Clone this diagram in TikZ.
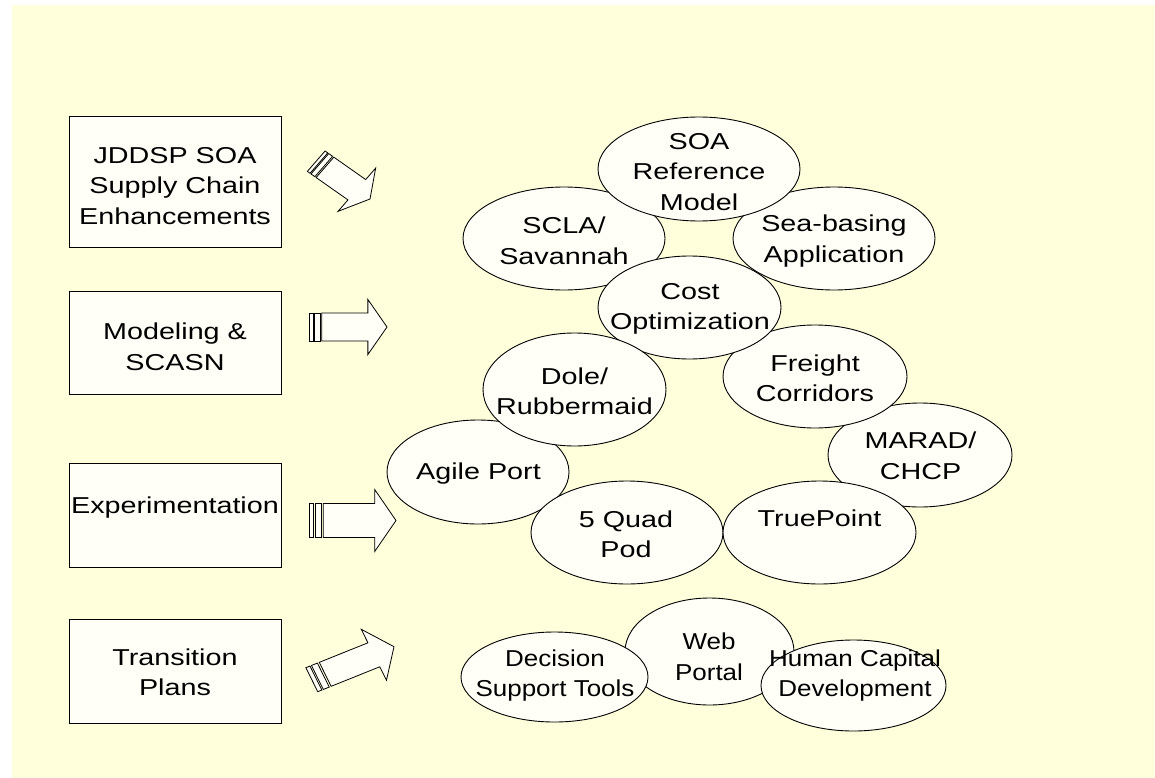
\documentclass[tikz,border=0pt]{standalone}
\usepackage{fontspec}
\setmainfont{Liberation Sans}
\newfontfamily\labA[FakeStretch=1.25]{Liberation Sans}
\newfontfamily\labB[FakeStretch=1.13]{Liberation Sans}
\usetikzlibrary{shapes.geometric}
\definecolor{bgyellow}{RGB}{255,255,220}
\definecolor{paper}{RGB}{255,255,248}
\tikzset{
  box/.style={draw=black, line width=1pt, fill=paper, rectangle, inner sep=0pt},
  oval/.style={draw=black, line width=0.9pt, fill=paper, ellipse, inner sep=0pt},
  lbl/.style={font={\labA\fontsize{23}{30.5}\selectfont}, align=center, inner sep=0pt},
  lblb/.style={font={\labB\fontsize{23}{30.5}\selectfont}, align=center, inner sep=0pt},
  arr/.style={draw=black, line width=0.8pt, fill=paper, line join=miter},
}
\newcommand\stripedarrow[1]{%
  \filldraw[arr] (0,-#1) -- (0.05,-#1) -- (0.05,#1) -- (0,#1) -- cycle;
  \filldraw[arr] (0.068,-#1) -- (0.14,-#1) -- (0.14,#1) -- (0.068,#1) -- cycle;
  \filldraw[arr] (0.163,-#1) -- (0.755,-#1) -- (0.755,-1) -- (1,0) -- (0.755,1) -- (0.755,#1) -- (0.163,#1) -- cycle;}
\begin{document}
\begin{tikzpicture}[x=1pt,y=-1pt]
\useasboundingbox (0,0) rectangle (1155,778);
\fill[bgyellow] (12,5) rectangle (1155,778);

% left boxes
\node[box, minimum width=212pt, minimum height=130pt] (b1) at (175,182) {};
\node[box, minimum width=212pt, minimum height=103pt] (b2) at (175,342.5) {};
\node[box, minimum width=212pt, minimum height=104pt] (b3) at (175,515) {};
\node[box, minimum width=212pt, minimum height=104pt] (b4) at (175,671) {};
\node[lbl] (tb1) at (175,186) {JDDSP SOA\\Supply Chain\\Enhancements};
\node[lbl] (tb2) at (175,347) {Modeling \&\\SCASN};
\node[lbl] (tb3) at (175,508) {Experimentation};
\node[lbl] (tb4) at (175,672.5) {Transition\\Plans};

% striped arrows
\begin{scope}[shift={(316.2pt,-161.2pt)}, x={(53.8pt,-37.8pt)}, y={(18.85pt,21.65pt)}]
  \stripedarrow{0.47}
\end{scope}
\begin{scope}[shift={(309pt,-327pt)}, x={(78pt,0pt)}, y={(0pt,27.5pt)}]
  \stripedarrow{0.51}
\end{scope}
\begin{scope}[shift={(309pt,-520.5pt)}, x={(87pt,0pt)}, y={(0pt,31pt)}]
  \stripedarrow{0.55}
\end{scope}
\begin{scope}[shift={(311.8pt,-679.7pt)}, x={(82.2pt,33pt)}, y={(-12.6pt,25.5pt)}]
  \stripedarrow{0.47}
\end{scope}

% ellipses (drawing order = stacking order)
\node[oval, minimum width=202pt, minimum height=103pt] (scla) at (564,238.5) {};
\node[oval, minimum width=202pt, minimum height=103pt] (sea) at (834,238.5) {};
\node[oval, minimum width=202pt, minimum height=104pt] (soa) at (699,169) {};
\node[oval, minimum width=184pt, minimum height=104pt] (marad) at (920,455) {};
\node[oval, minimum width=184pt, minimum height=103pt] (freight) at (815,376.5) {};
\node[oval, minimum width=183pt, minimum height=103pt] (cost) at (689.5,307.5) {};
\node[oval, minimum width=182pt, minimum height=104pt] (agile) at (478,472) {};
\node[oval, minimum width=183pt, minimum height=113pt] (dole) at (574.5,389.5) {};
\node[oval, minimum width=192pt, minimum height=103pt] (quad) at (627,532.5) {};
\node[oval, minimum width=193pt, minimum height=103pt] (true) at (819.5,532.5) {};
\node[oval, minimum width=169pt, minimum height=107pt] (web) at (709.5,651.5) {};
\node[oval, minimum width=187pt, minimum height=90pt] (dec) at (554.5,677) {};
\node[oval, minimum width=185pt, minimum height=91pt] (hum) at (853.5,685.5) {};

% ellipse labels
\node[lbl] (tscla) at (564,241) {SCLA/\\Savannah};
\node[lbl] (tsea) at (834,241) {Sea-basing\\Application};
\node[lbl] (tsoa) at (699,172) {SOA\\Reference\\Model};
\node[lbl] (tmarad) at (920.5,456) {MARAD/\\CHCP};
\node[lbl] (tfreight) at (815,378.5) {Freight\\Corridors};
\node[lbl] (tcost) at (690,309) {Cost\\Optimization};
\node[lbl] (tagile) at (478.5,473.5) {Agile Port};
\node[lbl] (tdole) at (574.5,391.5) {Dole/\\Rubbermaid};
\node[lbl] (tquad) at (626,534.5) {5 Quad\\Pod};
\node[lbl] (ttrue) at (819.5,518) {TruePoint};
\node[lblb] (tweb) at (709,657) {Web\\Portal};
\node[lblb] (tdec) at (555,675.5) {Decision\\Support Tools};
\node[lblb] (thum) at (855,675.5) {Human Capital\\Development};
\end{tikzpicture}
\end{document}
